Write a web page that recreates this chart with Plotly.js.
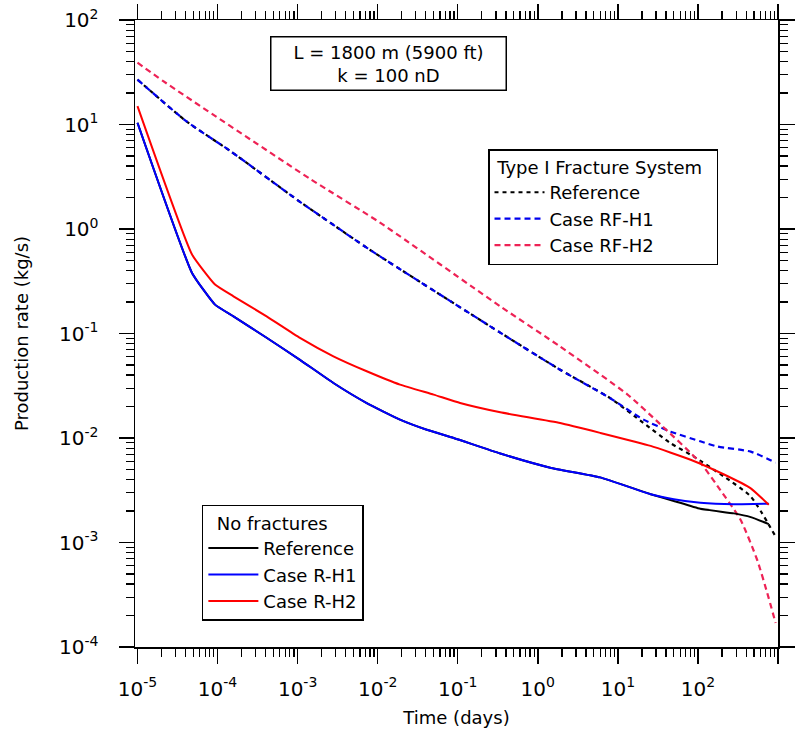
<!DOCTYPE html>
<html>
<head>
<meta charset="utf-8">
<script src="https://cdn.plot.ly/plotly-3.0.1.min.js"></script>
<style>html,body{margin:0;padding:0;background:#fff;}#chart{width:795px;height:735px;}</style>
</head>
<body>
<div id="chart"></div>
<script>
// ---- Data (time in days, production rate in kg/s) ----
// Type I fracture system (dashed)
const tRFRef = [1e-5, 4.1e-5, 1.43e-4, 1.07e-3, 2.55e-3, 8.05e-3, 0.339, 1.9, 8.05, 20.9, 45.7, 87, 209, 457, 933];
const qRFRef = [26.9, 10.7, 5.6, 1.82, 1.15, 0.63, 0.102, 0.045, 0.024, 0.0139, 0.0089, 0.0067, 0.0043, 0.00275, 0.00114];

const tRFH1 = [1e-5, 4.1e-5, 1.43e-4, 1.07e-3, 2.55e-3, 8.05e-3, 0.339, 1.9, 8.05, 20.9, 45.7, 107, 174, 457, 933];
const qRFH1 = [26.9, 10.7, 5.6, 1.82, 1.15, 0.63, 0.102, 0.045, 0.024, 0.015, 0.0115, 0.0093, 0.0083, 0.0074, 0.0058];

const tRFH2 = [1e-5, 2.1e-5, 1.45e-3, 0.0107, 0.339, 1.9, 13, 34, 107, 174, 339, 550, 733, 933];
const qRFH2 = [39, 26, 3.0, 1.15, 0.182, 0.075, 0.0263, 0.0135, 0.0058, 0.0035, 0.00166, 6.8e-4, 3.3e-4, 1.7e-4];

// No fractures (solid)
const tRRef = [1e-5, 4.8e-5, 9.3e-5, 1.58e-4, 4.1e-4, 1.07e-3, 2.8e-3, 7.3e-3, 0.019, 0.041, 0.089, 0.34, 1.43, 6.0, 25.7, 50, 107, 282, 457, 767];
const qRRef = [10.4, 0.38, 0.189, 0.146, 0.091, 0.056, 0.0336, 0.0216, 0.015, 0.012, 0.010, 0.0071, 0.0052, 0.0042, 0.0029, 0.0025, 0.0021, 0.0019, 0.00175, 0.0015];

const tRH1 = [1e-5, 4.8e-5, 9.3e-5, 1.58e-4, 4.1e-4, 1.07e-3, 2.8e-3, 7.3e-3, 0.019, 0.041, 0.089, 0.34, 1.43, 6.0, 25.7, 50, 107, 282, 767];
const qRH1 = [10.4, 0.38, 0.189, 0.146, 0.091, 0.056, 0.0336, 0.0216, 0.015, 0.012, 0.010, 0.0071, 0.0052, 0.0042, 0.0029, 0.0026, 0.0024, 0.00232, 0.00235];

const tRH2 = [1e-5, 4.8e-5, 9.3e-5, 1.58e-4, 4.1e-4, 1.07e-3, 2.8e-3, 7.3e-3, 0.019, 0.05, 0.107, 0.34, 1.9, 6.0, 25.7, 81, 209, 457, 767];
const qRH2 = [15, 0.57, 0.294, 0.227, 0.146, 0.0908, 0.0605, 0.0435, 0.0324, 0.026, 0.0216, 0.0176, 0.0139, 0.0112, 0.0084, 0.0062, 0.0045, 0.0033, 0.0023];

// ---- Tick labels ----
const xExponents = [-5, -4, -3, -2, -1, 0, 1, 2, 3];
const yExponents = [-4, -3, -2, -1, 0, 1, 2];
const decadeVals = e => e.map(p => Math.pow(10, p));
const decadeText = e => e.map(p => '10<sup>' + p + '</sup>');
const minorVals = e => {
  const out = [];
  for (let i = 0; i < e.length - 1; i++) for (let d = 2; d <= 9; d++) out.push(d * Math.pow(10, e[i]));
  return out;
};

const FONT = 'DejaVu Sans, Verdana, sans-serif';
const NB = '\u00a0';

const traces = [
  {x: tRFRef, y: qRFRef, name: 'Reference', mode: 'lines', legend: 'legend',
   line: {color: '#000000', width: 2.2, dash: '4px,4px', shape: 'spline', smoothing: 0.6}},
  {x: tRFH1, y: qRFH1, name: 'Case RF-H1', mode: 'lines', legend: 'legend',
   line: {color: '#0000ee', width: 2.2, dash: '6px,4px', shape: 'spline', smoothing: 0.6}},
  {x: tRFH2, y: qRFH2, name: 'Case RF-H2', mode: 'lines', legend: 'legend',
   line: {color: '#ee2255', width: 2.2, dash: '6px,4px', shape: 'spline', smoothing: 0.6}},
  {x: tRRef, y: qRRef, name: 'Reference', mode: 'lines', legend: 'legend2',
   line: {color: '#000000', width: 2, shape: 'spline', smoothing: 0.4}},
  {x: tRH1, y: qRH1, name: 'Case R-H1', mode: 'lines', legend: 'legend2',
   line: {color: '#0000ff', width: 2, shape: 'spline', smoothing: 0.4}},
  {x: tRH2, y: qRH2, name: 'Case R-H2', mode: 'lines', legend: 'legend2',
   line: {color: '#ff0000', width: 2, shape: 'spline', smoothing: 0.4}}
];

const axisCommon = {
  type: 'log', tickmode: 'array',
  ticks: 'outside', ticklen: 15, tickwidth: 1.5, tickcolor: '#000',
  showline: true, linewidth: 1.5, linecolor: '#000', mirror: 'ticks',
  showgrid: false, zeroline: false,
  tickfont: {family: FONT, size: 20, color: '#000'}
};

const layout = {
  width: 795, height: 735,
  margin: {l: 135, r: 17, t: 20, b: 88},
  paper_bgcolor: '#fff', plot_bgcolor: '#fff',
  font: {family: FONT, color: '#000'},
  showlegend: true,
  xaxis: Object.assign({}, axisCommon, {
    range: [-5.031, 3.0],
    tickvals: decadeVals(xExponents), ticktext: decadeText(xExponents),
    minor: {tickmode: 'array', tickvals: minorVals(xExponents), ticks: 'outside', ticklen: 8, tickwidth: 1.2, tickcolor: '#000', showgrid: false},
    ticklabelstandoff: 8,
    title: {text: 'Time (days)', font: {family: FONT, size: 18, color: '#000'}, standoff: 12}
  }),
  yaxis: Object.assign({}, axisCommon, {
    range: [-4, 2],
    tickvals: decadeVals(yExponents), ticktext: decadeText(yExponents),
    minor: {tickmode: 'array', tickvals: minorVals(yExponents), ticks: 'outside', ticklen: 8, tickwidth: 1.2, tickcolor: '#000', showgrid: false},
    ticklabelstandoff: 16,
    title: {text: 'Production rate (kg/s)', font: {family: FONT, size: 18, color: '#000'}, standoff: 26}
  }),
  legend: {
    x: 0.549, y: 0.794, xanchor: 'left', yanchor: 'top',
    bgcolor: '#fff', bordercolor: '#000', borderwidth: 1.5,
    font: {family: FONT, size: 18, color: '#000'},
    title: {text: NB + 'Type I Fracture System' + NB + NB, font: {family: FONT, size: 18, color: '#000'}},
    tracegroupgap: 0, itemwidth: 50
  },
  legend2: {
    x: 0.104, y: 0.2265, xanchor: 'left', yanchor: 'top',
    bgcolor: '#fff', bordercolor: '#000', borderwidth: 1.5,
    font: {family: FONT, size: 18, color: '#000'},
    title: {text: NB + NB + 'No fractures', font: {family: FONT, size: 18, color: '#000'}},
    tracegroupgap: 0, itemwidth: 50
  },
  annotations: [{
    xref: 'paper', yref: 'paper', x: 0.395, y: 0.9745, xanchor: 'center', yanchor: 'top',
    text: 'L = 1800 m (5900 ft)<br>k = 100 nD', showarrow: false,
    font: {family: FONT, size: 18, color: '#000'},
    bordercolor: '#000', borderwidth: 1.5, borderpad: 4, bgcolor: '#fff', width: 226
  }]
};

Plotly.newPlot('chart', traces, layout, {staticPlot: true, displayModeBar: false});
</script>
</body>
</html>
